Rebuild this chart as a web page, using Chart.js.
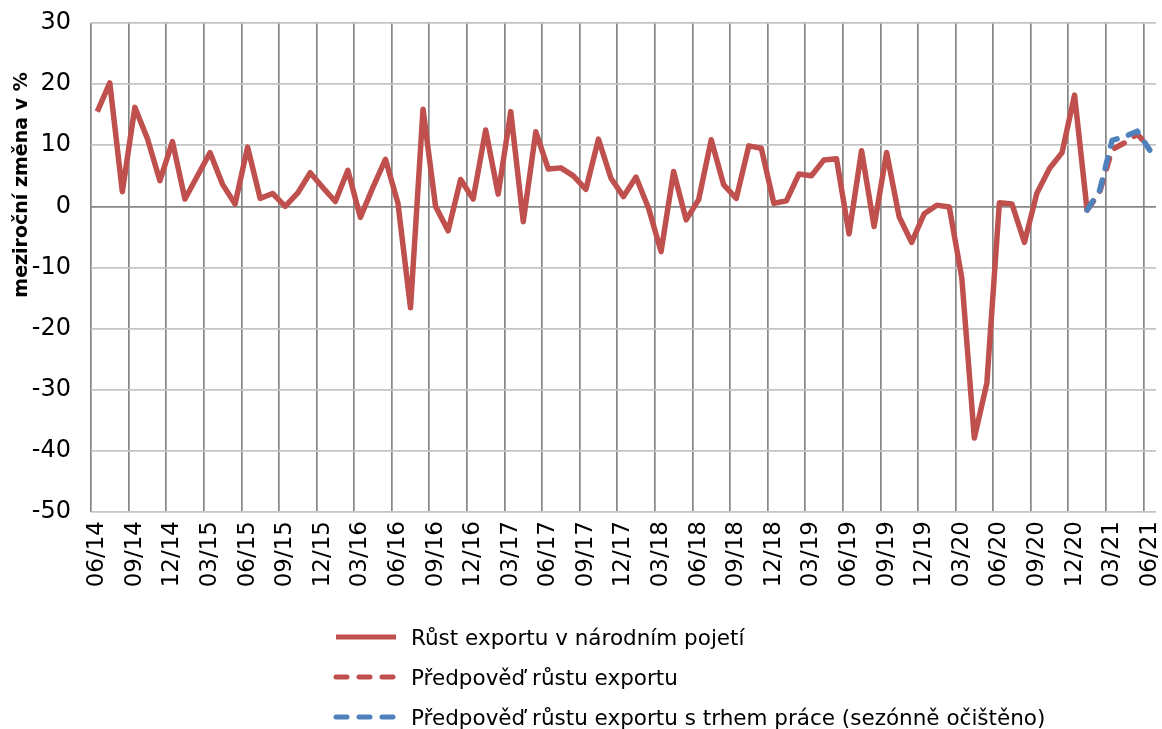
<!DOCTYPE html>
<html lang="cs">
<head>
<meta charset="utf-8">
<title>Růst exportu</title>
<script src="https://cdn.jsdelivr.net/npm/chart.js@4.4.1/dist/chart.umd.min.js"></script>
<style>
    html, body { margin: 0; padding: 0; background: #fff; }
    #wrap { position: relative; width: 1162px; height: 729px; }
    #exportChart { position: absolute; left: 0; top: 0; }
    #legend {
        position: absolute; left: 333px; top: 617px;
        font-family: "DejaVu Sans", sans-serif; font-size: 21.5px; color: #000;
    }
    .legend-row { display: flex; align-items: center; height: 40px; }
    .legend-row svg { margin-right: 12px; }
</style>
</head>
<body>
<div id="wrap">
    <canvas id="exportChart" width="1162" height="729"></canvas>
    <div id="legend"></div>
</div>
<script>
const months = [
    '06/14','07/14','08/14','09/14','10/14','11/14','12/14',
    '01/15','02/15','03/15','04/15','05/15','06/15','07/15','08/15','09/15','10/15','11/15','12/15',
    '01/16','02/16','03/16','04/16','05/16','06/16','07/16','08/16','09/16','10/16','11/16','12/16',
    '01/17','02/17','03/17','04/17','05/17','06/17','07/17','08/17','09/17','10/17','11/17','12/17',
    '01/18','02/18','03/18','04/18','05/18','06/18','07/18','08/18','09/18','10/18','11/18','12/18',
    '01/19','02/19','03/19','04/19','05/19','06/19','07/19','08/19','09/19','10/19','11/19','12/19',
    '01/20','02/20','03/20','04/20','05/20','06/20','07/20','08/20','09/20','10/20','11/20','12/20',
    '01/21','02/21','03/21','04/21','05/21','06/21'
];

// Růst exportu v národním pojetí (meziročně, %)
const exportGrowth = [
    15.5, 20.2, 2.4, 16.2, 11.1, 4.2, 10.6,
    1.2, 5.0, 8.8, 3.6, 0.4, 9.7, 1.3, 2.1, 0.0, 2.2, 5.5, 3.1,
    0.8, 5.9, -1.8, 3.1, 7.7, 0.5, -16.6, 15.9, 0.0, -4.0, 4.4, 1.2,
    12.5, 2.0, 15.5, -2.5, 12.2, 6.1, 6.3, 5.0, 2.8, 11.0, 4.6, 1.6,
    4.8, -0.3, -7.4, 5.7, -2.2, 1.1, 10.9, 3.5, 1.3, 9.9, 9.5, 0.5,
    0.9, 5.3, 5.0, 7.6, 7.8, -4.5, 9.1, -3.3, 8.8, -1.7, -5.9, -1.2,
    0.2, -0.1, -11.7, -37.9, -28.9, 0.6, 0.4, -5.9, 2.2, 6.2, 8.8, 18.2,
    -0.6, null, null, null, null, null
];

// predpovedi zacinaji v 01/21 (index 79)
const forecastStart = 79;
const forecastValues = [-0.6, 2.3, 9.3, 10.4, 11.8, 9.6];
const forecastLabourValues = [-0.6, 2.6, 10.8, 11.4, 12.3, 9.2];

const yTicks = [-50, -40, -30, -20, -10, 0, 10, 20, 30];

const RED = '#C0504D';
const BLUE = '#4F81BD';

function padForecast(values) {
    const out = Array(months.length).fill(null);
    values.forEach((v, i) => { out[forecastStart + i] = v; });
    return out;
}

const datasets = [
    {
        label: 'Růst exportu v národním pojetí',
        data: exportGrowth,
        borderColor: RED,
        borderWidth: 5.5,
        borderDash: [],
        order: 2
    },
    {
        label: 'Předpověď růstu exportu',
        data: padForecast(forecastValues),
        borderColor: RED,
        borderWidth: 5.5,
        borderDash: [11, 12],
        borderCapStyle: 'round',
        order: 1
    },
    {
        label: 'Předpověď růstu exportu s trhem práce (sezónně očištěno)',
        data: padForecast(forecastLabourValues),
        borderColor: BLUE,
        borderWidth: 5.5,
        borderDash: [11, 12],
        borderCapStyle: 'round',
        order: 0
    }
];

const yTitlePlugin = {
    id: 'yTitle',
    afterDraw(chart) {
        const c = chart.ctx;
        c.save();
        c.translate(22, 185);
        c.rotate(-Math.PI / 2);
        c.font = 'bold 19px "DejaVu Sans"';
        c.fillStyle = '#000';
        c.textAlign = 'center';
        c.textBaseline = 'middle';
        c.fillText('meziroční změna v %', 0, 0);
        c.restore();
    }
};

function buildLegend() {
    const box = document.getElementById('legend');
    let html = '';
    datasets.forEach(ds => {
        const dash = ds.borderDash.length ? `stroke-dasharray="${ds.borderDash.join(' ')}" stroke-linecap="round"` : '';
        html += `
            <div class="legend-row">
                <svg width="66" height="10"><line x1="3" y1="5" x2="63" y2="5" stroke="${ds.borderColor}" stroke-width="5" ${dash}/></svg>
                <span>${ds.label}</span>
            </div>`;
    });
    box.innerHTML = html;
}

document.addEventListener('DOMContentLoaded', () => {
    buildLegend();
    const ctx = document.getElementById('exportChart').getContext('2d');
    new Chart(ctx, {
        type: 'line',
        data: { labels: months, datasets: datasets },
        plugins: [yTitlePlugin],
        options: {
            responsive: false,
            animation: false,
            layout: { padding: { top: 23, right: 6, bottom: 122, left: 0 } },
            elements: {
                point: { radius: 0, hoverRadius: 0 },
                line: { tension: 0, borderJoinStyle: 'round', fill: false }
            },
            plugins: {
                legend: { display: false },
                tooltip: { enabled: false }
            },
            scales: {
                x: {
                    offset: true,
                    grid: {
                        offset: true,
                        drawTicks: false,
                        lineWidth: 1.7,
                        color: c => (c.index !== undefined && c.index % 3 === 0) ? '#868686' : 'rgba(0,0,0,0)'
                    },
                    border: { display: false },
                    ticks: {
                        autoSkip: false,
                        minRotation: 90,
                        maxRotation: 90,
                        padding: 9,
                        color: '#000',
                        font: { family: 'DejaVu Sans', size: 23 },
                        callback: (val, i) => i % 3 === 0 ? months[i] : ''
                    },
                    afterFit: scale => {
                        scale.height = 95;
                        scale.paddingLeft = 0;
                        scale.paddingRight = 0;
                    }
                },
                y: {
                    min: yTicks[0],
                    max: yTicks[yTicks.length - 1],
                    grid: {
                        drawTicks: false,
                        lineWidth: 1.7,
                        color: c => c.tick && c.tick.value === 0 ? '#868686' : '#C4C4C4'
                    },
                    border: { display: false },
                    afterBuildTicks: scale => { scale.ticks = yTicks.map(v => ({ value: v })); },
                    ticks: {
                        padding: 20,
                        color: '#000',
                        font: { family: 'DejaVu Sans', size: 24 }
                    },
                    afterFit: scale => {
                        scale.width = 91;
                        scale.paddingTop = 0;
                        scale.paddingBottom = 0;
                    }
                }
            }
        }
    });
});
</script>
</body>
</html>
